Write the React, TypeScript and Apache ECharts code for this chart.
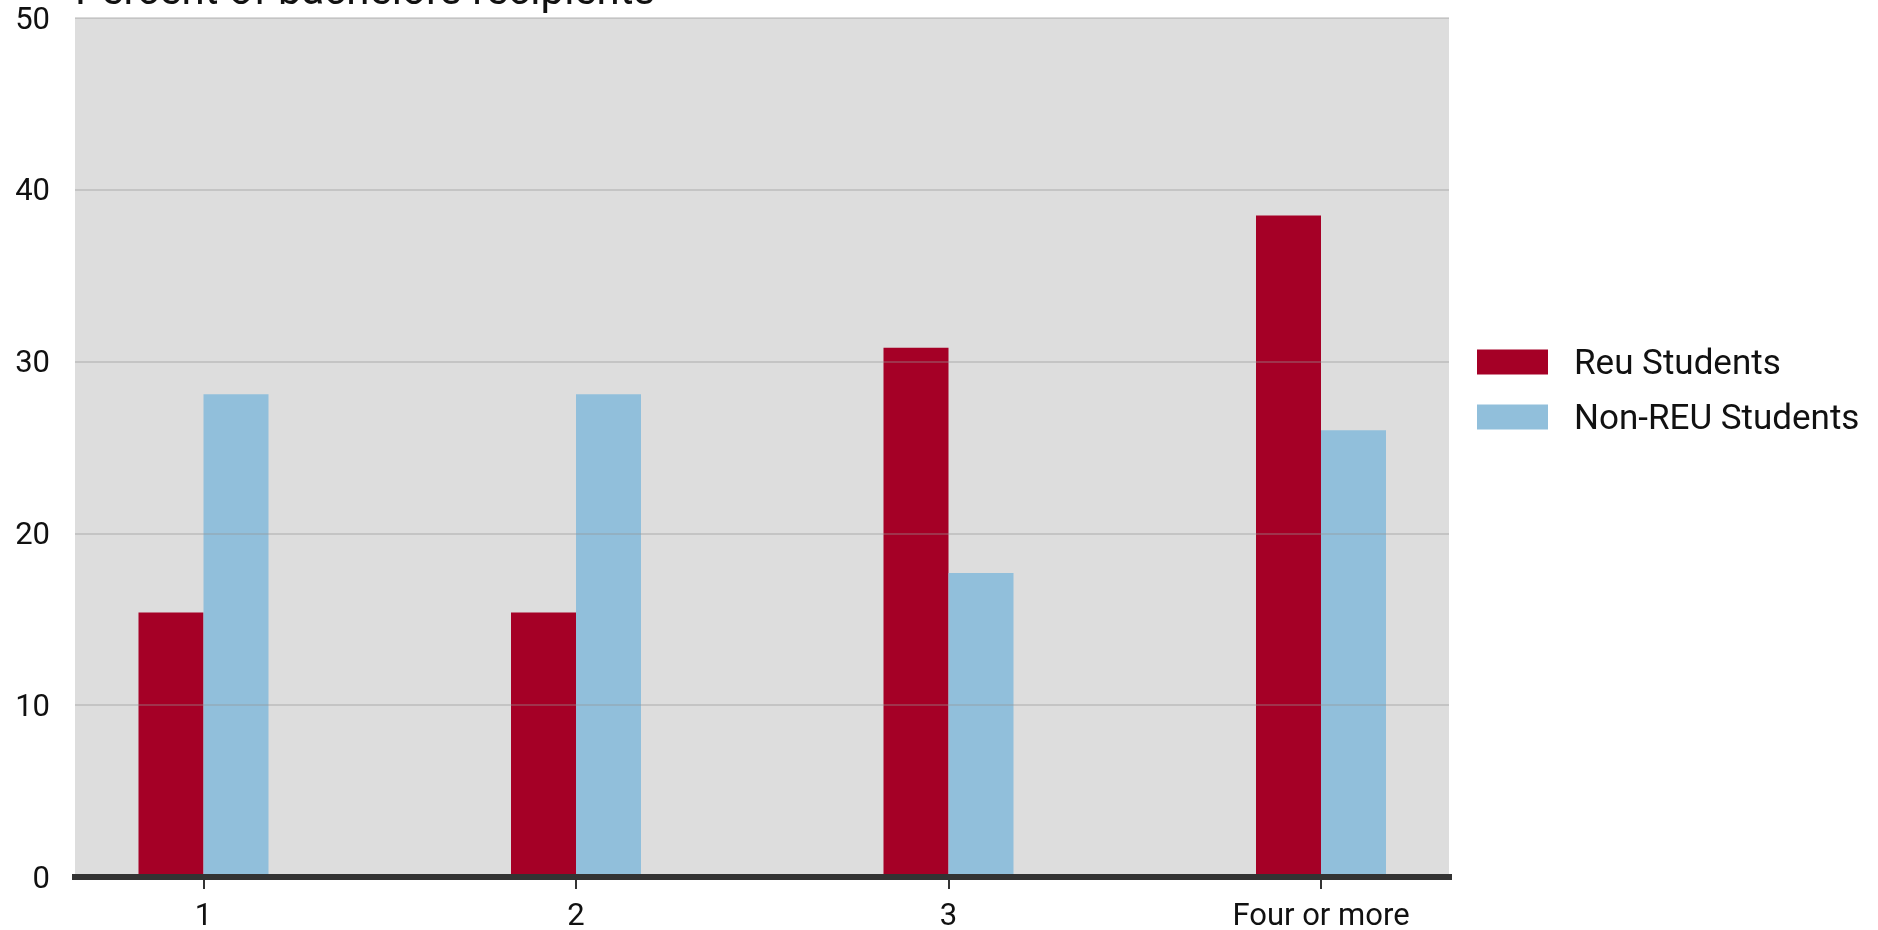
import React, { useEffect, useRef } from "react";
import * as echarts from "echarts";

const categories = ["1", "2", "3", "Four or more"];
const reuStudents = [15.4, 15.4, 30.8, 38.5];
const nonReuStudents = [28.1, 28.1, 17.7, 26.0];
const seriesNames = ["Reu Students", "Non-REU Students"];
const seriesColors = ["#a50026", "#91bfdb"];
const titleText = "Percent of bachelors recipients";
const yMin = 0;
const yMax = 50;
const yStep = 10;

const FONT = "Roboto";

export default function App() {
  const ref = useRef<HTMLDivElement>(null);
  useEffect(() => {
    if (!ref.current) return;
    const chart = echarts.init(ref.current, undefined, { renderer: "svg" });
    const top = 18;
    const bottom = 53;
    chart.setOption({
      animation: false,
      textStyle: { fontFamily: FONT },
      graphic: [
        {
          type: "text",
          left: 75,
          top: -32,
          style: {
            text: titleText,
            font: `42px ${FONT}`,
            fill: "#111111",
          },
        },
      ],
      legend: {
        orient: "vertical",
        left: 1477,
        top: 344.5,
        padding: 0,
        itemWidth: 71,
        itemHeight: 25,
        itemGap: 20,
        icon: "rect",
        data: seriesNames,
        textStyle: {
          fontFamily: FONT,
          fontSize: 35,
          color: "#111111",
          padding: [0, 0, 0, 21],
        },
      },
      grid: [
        {
          left: 75,
          right: 429,
          top,
          bottom,
          show: true,
          backgroundColor: "#dddddd",
          borderWidth: 0,
          containLabel: false,
        },
        {
          left: 17.25,
          right: 370.75,
          top,
          bottom,
          containLabel: false,
        },
      ],
      xAxis: [
        {
          gridIndex: 0,
          type: "value",
          min: 0,
          max: 1,
          z: 5,
          axisLine: {
            show: true,
            onZero: false,
            lineStyle: { color: "#333333", width: 6, cap: "square" },
          },
          axisTick: { show: false },
          axisLabel: { show: false },
          splitLine: { show: false },
        },
        {
          gridIndex: 1,
          type: "category",
          data: categories,
          boundaryGap: true,
          axisLine: { show: false },
          axisTick: {
            show: true,
            alignWithLabel: true,
            length: 12,
            lineStyle: { color: "#333333", width: 2 },
          },
          axisLabel: {
            fontFamily: FONT,
            fontSize: 31,
            lineHeight: 28,
            color: "#111111",
            margin: 23.5,
          },
        },
      ],
      yAxis: [
        {
          gridIndex: 0,
          type: "value",
          min: yMin,
          max: yMax,
          interval: yStep,
          z: 4,
          axisLine: { show: false },
          axisTick: { show: false },
          axisLabel: {
            fontFamily: FONT,
            fontSize: 31,
            color: "#111111",
            margin: 25,
          },
          splitLine: {
            show: true,
            lineStyle: { color: "rgba(150,150,150,0.35)", width: 2 },
          },
        },
        {
          gridIndex: 1,
          type: "value",
          min: yMin,
          max: yMax,
          interval: yStep,
          show: false,
          splitLine: { show: false },
        },
      ],
      series: [
        {
          name: seriesNames[0],
          type: "bar",
          xAxisIndex: 1,
          yAxisIndex: 1,
          data: reuStudents,
          barWidth: 65,
          barGap: "0%",
          itemStyle: { color: seriesColors[0] },
        },
        {
          name: seriesNames[1],
          type: "bar",
          xAxisIndex: 1,
          yAxisIndex: 1,
          data: nonReuStudents,
          barWidth: 65,
          barGap: "0%",
          itemStyle: { color: seriesColors[1] },
        },
      ],
    });
    return () => chart.dispose();
  }, []);
  return (
    <div
      ref={ref}
      style={{ position: "fixed", left: 0, top: 0, width: 1878, height: 930 }}
    />
  );
}
